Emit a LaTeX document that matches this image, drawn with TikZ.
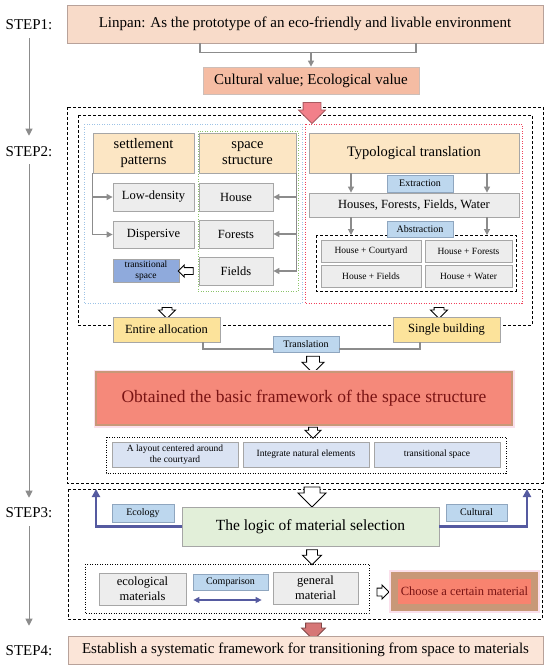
\documentclass[tikz,border=0pt]{standalone}
\usepackage{fontspec}
\setmainfont{Liberation Serif}
\usetikzlibrary{arrows.meta,shapes.arrows}
\definecolor{peach}{HTML}{F8DBC9}
\definecolor{peachdark}{HTML}{F5BCA3}
\definecolor{peachlight}{HTML}{FBE5D8}
\definecolor{peachedge}{HTML}{B8A29A}
\definecolor{cream}{HTML}{FCE6C4}
\definecolor{butter}{HTML}{FCE39B}
\definecolor{boxgray}{HTML}{EDEDED}
\definecolor{edgegray}{HTML}{A6A6A6}
\definecolor{tagblue}{HTML}{BDD7EE}
\definecolor{tagedge}{HTML}{8FA6BF}
\definecolor{midblue}{HTML}{8FAADC}
\definecolor{paleblue}{HTML}{DAE3F3}
\definecolor{palegreen}{HTML}{E2EFD9}
\definecolor{salmon}{HTML}{F5897A}
\definecolor{salmonb}{HTML}{F8836F}
\definecolor{maroon}{HTML}{7A1414}
\definecolor{tanedge}{HTML}{C89878}
\definecolor{pinkglow}{HTML}{FBE0EC}
\definecolor{slate}{HTML}{555AA0}
\definecolor{linegray}{HTML}{8C8C8C}
\definecolor{pinkred}{HTML}{F2808A}
\definecolor{dullred}{HTML}{D67676}
\definecolor{bluedot}{HTML}{9DC3E6}
\definecolor{greendot}{HTML}{8CC46A}
\definecolor{reddot}{HTML}{F0405A}

\begin{document}
\begin{tikzpicture}[x=1pt,y=-1pt,font=\fontsize{15}{17}\selectfont]
\tikzset{fs/.style 2 args={font=\fontsize{#1}{#2}\selectfont}}
\tikzset{sz/.style 2 args={minimum width=#1pt,minimum height=#2pt}}
\tikzset{box/.style={draw=edgegray,line width=0.8pt,inner sep=1pt,align=center}}
\tikzset{graybox/.style={box,fill=boxgray,fs={12.5}{15}}}
\tikzset{tag/.style={box,fill=tagblue,draw=tagedge,fs={10}{11}}}
\tikzset{conn/.style={linegray,line width=1.1pt}}
\tikzset{tip/.style={conn,-{Triangle[length=6pt,width=6pt]}}}
\tikzset{stepline/.style={linegray,line width=1pt,-{Triangle[length=7pt,width=7pt]}}}
\tikzset{frame/.style={line width=1pt,dash pattern=on 3pt off 2pt}}
\tikzset{dotframe/.style={line width=0.9pt,dash pattern=on 1pt off 1.5pt}}
\tikzset{arrsz/.style n args={3}{minimum height=#1pt,minimum width=0pt,inner ysep=#2pt,single arrow head extend=#3pt}}
\tikzset{hollow/.style={shape=single arrow,draw=black,fill=white,line width=0.9pt,inner xsep=0pt,single arrow head indent=0pt}}
\tikzset{bigarrow/.style={shape=single arrow,line width=0.8pt,inner xsep=0pt,single arrow head indent=0pt,rotate=-90}}
\tikzset{bluearr/.style={slate,line width=2.4pt,-{Triangle[length=8pt,width=8pt]}}}
\tikzset{bluedbl/.style={slate,line width=1.3pt,{Triangle[length=6pt,width=6pt]}-{Triangle[length=6pt,width=6pt]}}}
\useasboundingbox (0,0) rectangle (550,672);
% step labels and side line
\foreach \n/\y in {1/25,2/152,3/513,4/651}
  \node[inner sep=0pt] (step\n) at (29,\y) {STEP\n:};
\draw[stepline,shorten <=8pt,shorten >=11pt] (step1) -- (step2);
\draw[stepline,shorten <=7pt,shorten >=10pt] (step2) -- (step3);
\draw[stepline,shorten <=8pt,shorten >=20pt] (step3) -- (step4);
% step 1
\node[box,fill=peach,draw=peachedge,sz={476}{38}] (linpan) at (305,24) {Linpan: As the prototype of an eco-friendly and livable environment};
\node[box,fill=peachdark,draw=peachedge!70,sz={216}{27}] (values) at (311,80.5) {Cultural value; Ecological value};
\draw[conn] ([xshift=-105pt]linpan.south) -- ++(0,9) coordinate (brk) -| ([xshift=111pt]linpan.south);
\draw[tip] (brk -| values.north) -- (values.north);
% step 2 frames
\draw[frame] (67,107) rectangle (543,483);
\draw[frame] (78,115) rectangle (532,325);
\draw[dotframe,bluedot] (84,124) rectangle (302,303);
\draw[dotframe,greendot] (198,131) rectangle (298,291);
\draw[dotframe,reddot] (305,124) rectangle (522,303);
\coordinate (absNW) at (316,235);
\coordinate (absSE) at (516,291);
\draw[frame,line width=0.8pt] (absNW) rectangle (absSE);
\node[bigarrow,fill=pinkred,draw=pinkred!70!black,arrsz={21}{8.5}{4.5}] (down1) at (312,108.5) {};
% settlement / space
\node[box,fill=cream,sz={101}{40},fs={14.5}{16}] (settle) at (143.5,153) {settlement\\patterns};
\node[box,fill=cream,sz={97}{40},fs={14.5}{16}] (spacestr) at (247.5,153) {space\\structure};
\node[graybox,sz={81}{28}] (lowd) at (153.5,197) {Low-density};
\node[graybox,sz={81}{27}] (disp) at (153.5,234.5) {Dispersive};
\node[box,fill=midblue,sz={66}{23},fs={9.5}{10.5}] (transL) at (146,270.5) {transitional\\space};
\node[graybox,sz={74}{28}] (house) at (236,197) {House};
\node[graybox,sz={74}{28}] (forest) at (236,234) {Forests};
\node[graybox,sz={74}{28}] (field) at (236,271) {Fields};
\draw[tip] (settle.south west) |- (disp.west);
\draw[tip] (settle.south west |- lowd.west) -- (lowd.west);
\draw[tip] (spacestr.south east) |- (field.east);
\draw[tip] (spacestr.south east |- house.east) -- (house.east);
\draw[tip] (spacestr.south east |- forest.east) -- (forest.east);
\node[hollow,rotate=180,arrsz={15}{3}{2.5}] (toTrans) at (187.5,271) {};
% typological translation
\node[box,fill=cream,sz={210}{40},fs={14.5}{16}] (typo) at (414,153) {Typological translation};
\node[graybox,sz={210}{24}] (hffw) at (414,205) {Houses, Forests, Fields, Water};
\draw[tip] ([xshift=-63pt]typo.south) -- ([xshift=-63pt]hffw.north);
\draw[tip] ([xshift=73pt]typo.south) -- ([xshift=73pt]hffw.north);
\draw[tip] ([xshift=-63pt]hffw.south) -- ([xshift=-63pt]hffw.south |- absNW);
\draw[tip] ([xshift=73pt]hffw.south) -- ([xshift=73pt]hffw.south |- absNW);
\node[tag,sz={66}{17}] (extract) at (420,183.5) {Extraction};
\node[tag,sz={66}{16}] (abstract) at (420,229) {Abstraction};
\node[graybox,sz={100}{22},fs={9.5}{11}] (hcourt) at (371,251.5) {House + Courtyard};
\node[graybox,sz={87}{22},fs={9.5}{11}] (hforest) at (468.5,251.5) {House + Forests};
\node[graybox,sz={100}{22},fs={9.5}{11}] (hfield) at (371,276) {House + Fields};
\node[graybox,sz={87}{22},fs={9.5}{11}] (hwater) at (468.5,276) {House + Water};
% allocation / building
\node[hollow,rotate=-90,arrsz={11}{4.5}{3.5}] (toEntire) at (167,310.5) {};
\node[hollow,rotate=-90,arrsz={11}{4.5}{3.5}] (toSingle) at (439,310.5) {};
\node[box,fill=butter,sz={107}{25},fs={12.5}{14}] (entire) at (166.5,329.5) {Entire allocation};
\node[box,fill=butter,sz={107}{25},fs={12.5}{14}] (single) at (446.5,329.5) {Single building};
\node[tag,sz={66}{16}] (transl) at (306,344) {Translation};
\draw[conn] ([xshift=36.5pt]entire.south) |- ([yshift=-5pt]transl.west);
\draw[conn] ([yshift=-5pt]transl.east) -| ([xshift=-26.5pt]single.south);
\node[hollow,rotate=-90,arrsz={17}{6}{4.5}] (toBasic) at (313,361.5) {};
\node[box,fill=salmon,draw=tanedge,line width=1.2pt,preaction={draw=pinkglow,line width=5pt},text=maroon,sz={416}{53},fs={17.5}{19}] (basic) at (304,398.5) {Obtained the basic framework of the space structure};
\node[hollow,rotate=-90,arrsz={11}{4}{3.5}] (toThree) at (313,430.5) {};
\draw[dotframe,black] (106,437) rectangle (506,473);
\node[box,fill=paleblue,sz={126}{25},fs={9.5}{11}] (layout) at (175,454.5) {A layout centered around\\the courtyard};
\node[box,fill=paleblue,sz={126}{25},fs={9.5}{11}] (natural) at (306,454.5) {Integrate natural elements};
\node[box,fill=paleblue,sz={126}{25},fs={9.5}{11}] (transR) at (437,454.5) {transitional space};
% step 3
\draw[frame] (68,489) rectangle (542,619);
\node[hollow,rotate=-90,arrsz={20}{7.5}{6}] (toLogic) at (312,493) {};
\coordinate (ecoTop) at (96,489);
\coordinate (culTop) at (527,489);
\node[box,fill=palegreen,sz={257}{39},fs={15.5}{17}] (logic) at (310.5,526.5) {The logic of material selection};
\draw[bluearr] (logic.west) -| (ecoTop);
\draw[bluearr] (logic.east) -| (culTop);
\node[tag,sz={62}{18}] (ecology) at (143,513) {Ecology};
\node[tag,sz={61}{17}] (cultural) at (476.5,512.5) {Cultural};
\node[hollow,rotate=-90,arrsz={15}{5}{4}] (toCompare) at (312,554.5) {};
\draw[dotframe,black] (85,564) rectangle (369,613);
\node[graybox,sz={87}{32}] (ecomat) at (142.5,589) {ecological\\materials};
\node[graybox,sz={85}{32}] (genmat) at (315.5,588) {general\\material};
\node[tag,sz={75}{16}] (compare) at (230.5,582) {Comparison};
\draw[bluedbl,shorten <=7pt,shorten >=11pt] ([yshift=-11pt]ecomat.east) -- ([yshift=-12pt]genmat.west);
\node[hollow,arrsz={12}{3.5}{3}] (toChoose) at (381,592) {};
\node[box,fill=salmonb,draw=tanedge,line width=7pt,preaction={draw=pinkglow,line width=11pt},text=maroon,sz={140}{32},fs={12.5}{14}] (choose) at (464.5,591.5) {Choose a certain material};
% step 4
\node[bigarrow,fill=dullred,draw=dullred!60!black,arrsz={17}{7.5}{4}] (down2) at (313.5,627.5) {};
\node[box,fill=peachlight,draw=peachedge,sz={475}{28}] (system) at (305.5,650) {Establish a systematic framework for transitioning from space to materials};
\end{tikzpicture}
\end{document}
